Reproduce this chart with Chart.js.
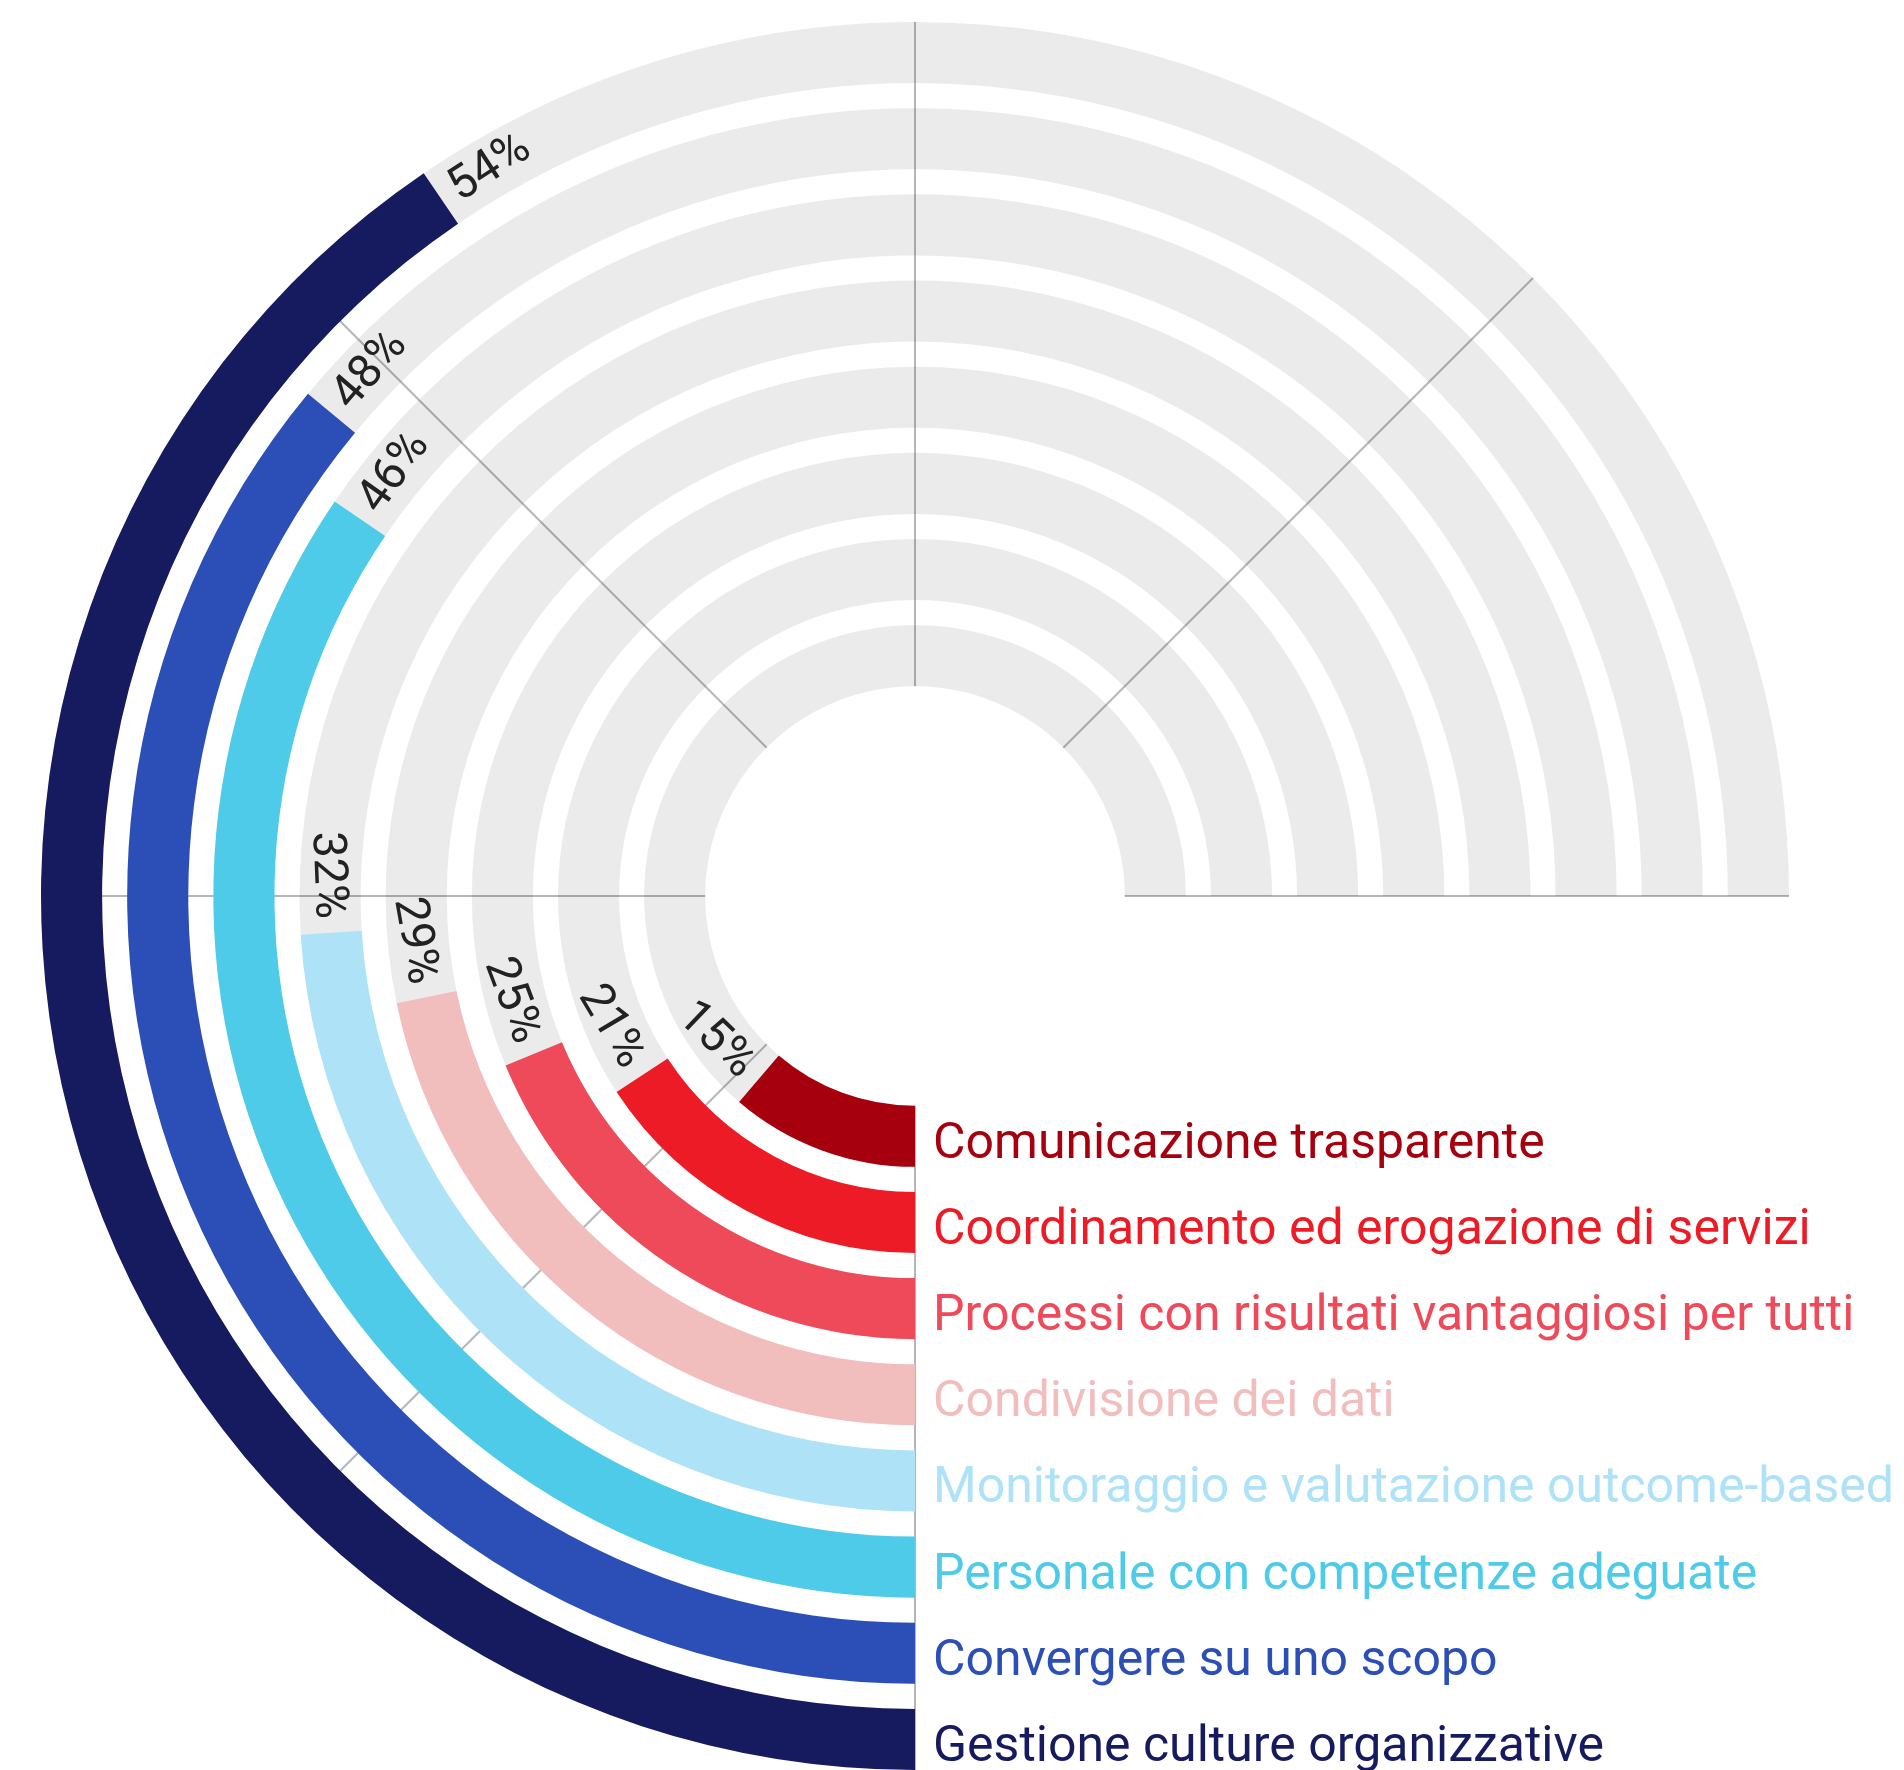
<!DOCTYPE html>
<html>
<head>
<meta charset="utf-8">
<script src="https://cdn.jsdelivr.net/npm/chart.js@4.4.1/dist/chart.umd.min.js"></script>
<style>
  html, body { margin: 0; padding: 0; background: #fff; overflow: hidden; }
  canvas { display: block; }
</style>
</head>
<body>
<canvas id="radial-chart" width="1904" height="1770"></canvas>
<script>
// outermost ring first
const categories = [
  'Gestione culture organizzative',
  'Convergere su uno scopo',
  'Personale con competenze adeguate',
  'Monitoraggio e valutazione outcome-based',
  'Condivisione dei dati',
  'Processi con risultati vantaggiosi per tutti',
  'Coordinamento ed erogazione di servizi',
  'Comunicazione trasparente'
];
const values = [54, 48, 46, 32, 29, 25, 21, 15];
const barColors = [
  '#161a5f', // navy
  '#2b4fb6', // blue
  '#4ecbe8', // cyan
  '#aee2f7', // light blue
  '#f2bdbd', // pink
  '#ef4a5a', // coral
  '#ed1b26', // red
  '#a6000f'  // dark red
];
const scaleMax = 100;
const gridFractions = [0, 1 / 6, 2 / 6, 3 / 6, 4 / 6, 5 / 6, 1];

const TRACK = 'rgba(0, 0, 0, 0.078)';
const FONT = 'Roboto, "Noto Sans", sans-serif';

function buildDatasets() {
  const sets = [];
  values.forEach((v, i) => {
    if (i > 0) {
      // white gap between rings
      sets.push({
        data: [scaleMax],
        backgroundColor: ['rgba(0,0,0,0)'],
        borderWidth: 0,
        weight: 25,
        spacer: true
      });
    }
    sets.push({
      label: categories[i],
      data: [v, scaleMax - v],
      backgroundColor: [barColors[i], TRACK],
      borderWidth: 0,
      weight: 61
    });
  });
  return sets;
}

function barMetas(chart) {
  return chart.data.datasets
    .map((ds, idx) => ({ ds, meta: chart.getDatasetMeta(idx) }))
    .filter(o => !o.ds.spacer);
}

const radialDecor = {
  id: 'radialDecor',
  beforeDatasetsDraw(chart) {
    const bars = barMetas(chart);
    const outer = bars[0].meta.data[0];
    const inner = bars[bars.length - 1].meta.data[0];
    const cx = outer.x, cy = outer.y;
    const r0 = inner.innerRadius, r1 = outer.outerRadius;
    const start = outer.startAngle;
    const sweep = Math.PI * 2 * (chart.options.circumference / 360);
    const ctx = chart.ctx;
    ctx.save();
    ctx.strokeStyle = '#b5b6ba';
    ctx.lineWidth = 2;
    gridFractions.forEach(f => {
      const a = start + sweep * f;
      ctx.beginPath();
      ctx.moveTo(cx + r0 * Math.cos(a), cy + r0 * Math.sin(a));
      ctx.lineTo(cx + r1 * Math.cos(a), cy + r1 * Math.sin(a));
      ctx.stroke();
    });
    ctx.restore();
  },
  afterDatasetsDraw(chart) {
    const ctx = chart.ctx;
    const bars = barMetas(chart);
    ctx.save();
    bars.forEach((o, i) => {
      const arc = o.meta.data[0];
      const r = (arc.innerRadius + arc.outerRadius) / 2;
      const cx = arc.x, cy = arc.y;

      // value label just past the end of the bar
      const a = arc.endAngle + 14 / r;
      let rot = a + Math.PI / 2;
      let align = 'left';
      if (Math.cos(rot) < 0) {
        rot -= Math.PI;
        align = 'right';
      }
      ctx.save();
      ctx.translate(cx + r * Math.cos(a), cy + r * Math.sin(a));
      ctx.rotate(rot);
      ctx.font = '47px ' + FONT;
      ctx.fillStyle = '#222';
      ctx.textAlign = align;
      ctx.textBaseline = 'middle';
      ctx.fillText(values[i] + '%', 0, 2);
      ctx.restore();

      // category label at the bottom of each ring
      ctx.font = '50px ' + FONT;
      ctx.fillStyle = barColors[i];
      ctx.textAlign = 'left';
      ctx.textBaseline = 'middle';
      ctx.fillText(categories[i], cx + 18, cy + r + 9);
    });
    ctx.restore();
  }
};

new Chart(document.getElementById('radial-chart'), {
  type: 'doughnut',
  data: {
    labels: ['valore', 'resto'],
    datasets: buildDatasets()
  },
  options: {
    responsive: false,
    animation: false,
    rotation: 180,
    circumference: 270,
    cutout: '24%',
    layout: {
      padding: { left: 41, right: 115, top: 22, bottom: 0 }
    },
    plugins: {
      legend: { display: false },
      tooltip: { enabled: false }
    }
  },
  plugins: [radialDecor]
});
</script>
</body>
</html>
